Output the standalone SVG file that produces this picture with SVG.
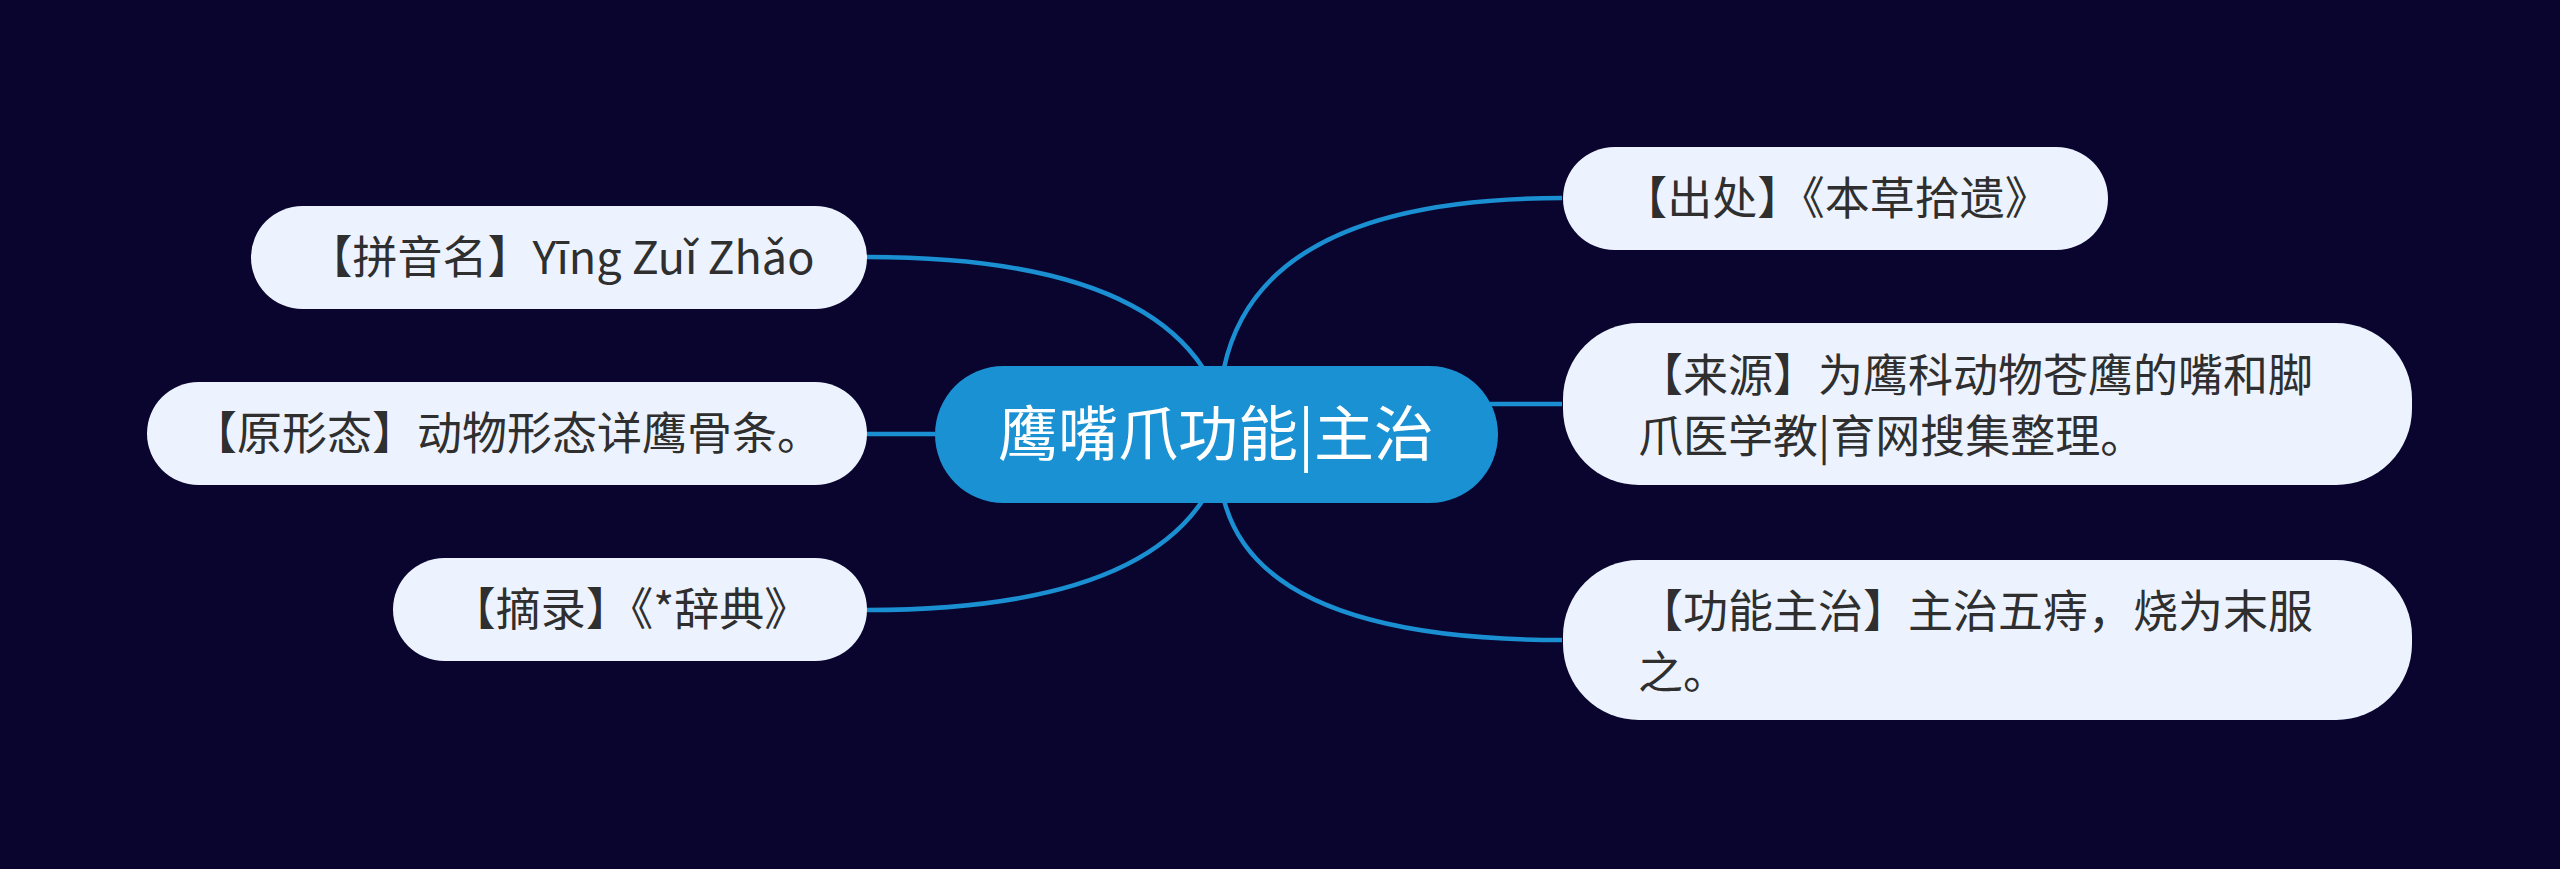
<svg xmlns="http://www.w3.org/2000/svg" width="2560" height="869" viewBox="0 0 2560 869">
<style>
.bg{fill:#0a052f}
.link{fill:none;stroke:#1a8fd2;stroke-width:4.5}
.node{fill:#edf3fe}
.t{font-family:"Noto Sans CJK SC","Noto Sans",sans-serif;font-size:45px;fill:#2f2f2f}
.c{text-anchor:middle}
.main{fill:#1a91d2}
.mt{font-family:"Noto Sans CJK SC","Noto Sans",sans-serif;font-size:60px;fill:#ffffff;text-anchor:middle}
</style>
<rect class="bg" x="0" y="0" width="2560" height="869"/>
<g id="connectors">
<path class="link" d="M1203,368 Q1130,257 867,257"/>
<path class="link" d="M935,434 L867,434"/>
<path class="link" d="M1203,500 Q1130,610 867,610"/>
<path class="link" d="M1224,368 Q1260,198 1562,198"/>
<path class="link" d="M1490,404 L1562,404"/>
<path class="link" d="M1224,500 Q1260,640 1562,640"/>
</g>
<g id="root">
<rect class="main" x="935" y="366" width="563" height="137" rx="68.5"/>
<text class="mt" x="1216" y="456">鹰嘴爪功能|主治</text>
</g>
<g id="n-pinyin">
<rect class="node" x="251" y="206" width="616" height="103" rx="51.5"/>
<text class="t c" x="561" y="274">【拼音名】Yīng Zuǐ Zhǎo</text>
</g>
<g id="n-xingtai">
<rect class="node" x="147" y="382" width="720" height="103" rx="51.5"/>
<text class="t c" x="507" y="450">【原形态】动物形态详鹰骨条。</text>
</g>
<g id="n-zhailu">
<rect class="node" x="393" y="558" width="474" height="103" rx="51.5"/>
<text class="t c" x="630" y="626">【摘录】《*辞典》</text>
</g>
<g id="n-chuchu">
<rect class="node" x="1563" y="147" width="545" height="103" rx="51.5"/>
<text class="t c" x="1836" y="215">【出处】《本草拾遗》</text>
</g>
<g id="n-laiyuan">
<rect class="node" x="1563" y="323" width="849" height="162" rx="76"/>
<text class="t" x="1638" y="392">【来源】为鹰科动物苍鹰的嘴和脚</text>
<text class="t" x="1638" y="453">爪医学教|育网搜集整理。</text>
</g>
<g id="n-gongneng">
<rect class="node" x="1563" y="560" width="849" height="160" rx="76"/>
<text class="t" x="1638" y="628">【功能主治】主治五痔，烧为末服</text>
<text class="t" x="1638" y="689">之。</text>
</g>
</svg>
